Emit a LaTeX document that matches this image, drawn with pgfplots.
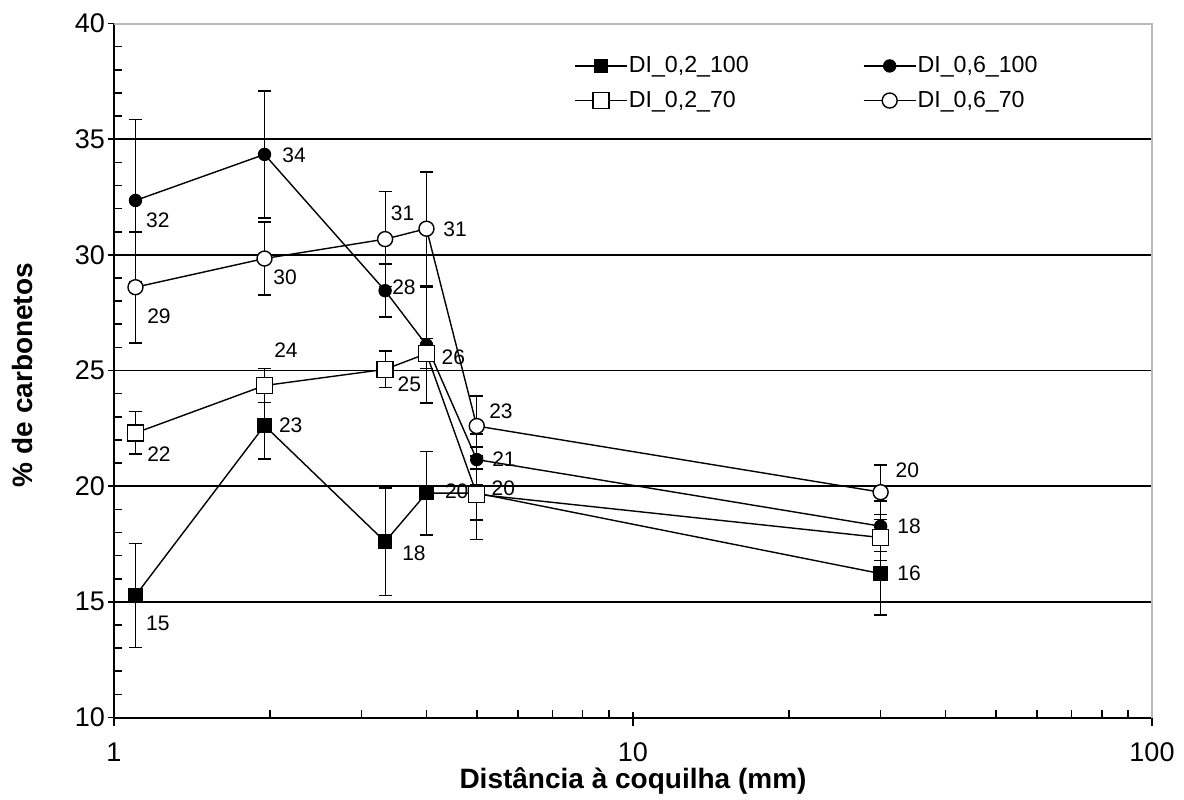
\documentclass[border=0pt]{standalone}
\usepackage{fontspec}
\setmainfont{Liberation Sans}
\usepackage{pgfplots}
\pgfplotsset{compat=1.18}
\tikzset{lbl/.style={font=\fontsize{10.5}{12}\selectfont, inner sep=0pt}}

\begin{document}
\begin{tikzpicture}
\useasboundingbox (-57pt,-40.75pt) rectangle (535pt,358.75pt);
\begin{axis}[
  scale only axis,
  width=519pt, height=347pt,
  xmode=log, log basis x=10,
  xmin=1, xmax=100, ymin=10, ymax=40,
  xtick={1,10,100}, xticklabels={1,10,100},
  minor xtick={2,3,4,5,6,7,8,9,20,30,40,50,60,70,80,90},
  ytick={10,15,20,25,30,35,40}, yticklabels={10,15,20,25,30,35,40},
  minor y tick num=4,
  ymajorgrids, major grid style={black, line width=0.9pt},
  axis x line*=bottom, axis y line*=left,
  axis line style={black, line width=1pt},
  tick align=inside,
  major tick length=7pt, minor tick length=4pt,
  tick style={black, line width=0.8pt},
  major x tick style={yshift=-4pt},
  major y tick style={xshift=-3pt},
  ticklabel style={font=\fontsize{13.5}{15}\selectfont},
  xticklabel style={yshift=-9pt},
  yticklabel style={xshift=-1pt},
  xlabel={Distância à coquilha (mm)},
  ylabel={\% de carbonetos},
  label style={font=\bfseries\fontsize{14}{16}\selectfont},
  xlabel style={at={(axis description cs:0.5,-0.0915)}, anchor=center},
  ylabel style={at={(axis description cs:-0.0886,0.4935)}, anchor=center},
  after end axis/.code={\draw[gray!55, line width=1pt] (rel axis cs:0,1) -- (rel axis cs:1,1) -- (rel axis cs:1,0);},
  legend columns=2,
  legend cell align=left,
  legend style={draw=none, fill=none, at={(axis description cs:0.443,0.955)}, anchor=north west,
    inner sep=0pt, font=\fontsize{11.6}{13}\selectfont, nodes={inner sep=0.6pt},
    row sep=6.5pt, /tikz/every even column/.append style={column sep=56.5pt}},
  legend image code/.code={\draw[mark repeat=2,mark phase=2] plot coordinates {(0pt,0pt)(13pt,0pt)(26pt,0pt)};},
  every axis plot/.append style={black, line width=0.7pt},
  error bars/y dir=both, error bars/y explicit,
  error bars/error mark options={mark size=3.25pt, line width=0.8pt, black, rotate=90},
]
% DI_0,2_100
\addplot[mark=square*, mark size=3.25pt, mark options={fill=black, solid}] coordinates {
  (1.1,15.27) +- (0,2.25)
  (1.95,22.62) +- (0,1.45)
  (3.33,17.6) +- (0,2.33)
  (4,19.7) +- (0,1.8)
  (5,19.7) +- (0,2.0)
  (30,16.22) +- (0,1.8)
};
\addlegendentry{DI\_0,2\_100}
% DI_0,6_100
\addplot[mark=*, mark size=3pt, mark options={fill=black, solid}] coordinates {
  (1.1,32.35) +- (0,3.5)
  (1.95,34.34) +- (0,2.75)
  (3.33,28.45) +- (0,1.15)
  (4,26.1) +- (0,2.5)
  (5,21.15) +- (0,1.1)
  (30,18.27) +- (0,1.1)
};
\addlegendentry{DI\_0,6\_100}
% DI_0,2_70
\addplot[mark=square*, mark size=4pt, mark options={fill=white, solid}] coordinates {
  (1.1,22.3) +- (0,0.92)
  (1.95,24.35) +- (0,0.74)
  (3.33,25.05) +- (0,0.79)
  (4,25.73) +- (0,0.65)
  (5,19.65) +- (0,1.1)
  (30,17.78) +- (0,1.0)
};
\addlegendentry{DI\_0,2\_70}
% DI_0,6_70
\addplot[mark=*, mark size=3.75pt, mark options={fill=white, solid}] coordinates {
  (1.1,28.6) +- (0,2.4)
  (1.95,29.84) +- (0,1.57)
  (3.33,30.68) +- (0,2.05)
  (4,31.13) +- (0,2.45)
  (5,22.6) +- (0,1.3)
  (30,19.74) +- (0,1.18)
};
\addlegendentry{DI\_0,6\_70}

% data labels
\node[lbl] at (axis cs:1.215,14.07) {15};
\node[lbl] at (axis cs:2.190,22.65) {23};
\node[lbl] at (axis cs:3.785,17.10) {18};
\node[lbl] at (axis cs:4.574,19.79) {20};
\node[lbl] at (axis cs:34.03,16.23) {16};
\node[lbl] at (axis cs:1.221,21.39) {22};
\node[lbl] at (axis cs:2.145,25.89) {24};
\node[lbl] at (axis cs:3.707,24.42) {25};
\node[lbl] at (axis cs:4.506,25.57) {26};
\node[lbl] at (axis cs:5.625,19.91) {20};
\node[lbl] at (axis cs:1.215,31.51) {32};
\node[lbl] at (axis cs:2.223,34.32) {34};
\node[lbl] at (axis cs:3.620,28.60) {28};
\node[lbl] at (axis cs:5.642,21.16) {21};
\node[lbl] at (axis cs:34.03,18.28) {18};
\node[lbl] at (axis cs:1.221,27.36) {29};
\node[lbl] at (axis cs:2.136,29.03) {30};
\node[lbl] at (axis cs:3.599,31.80) {31};
\node[lbl] at (axis cs:4.540,31.11) {31};
\node[lbl] at (axis cs:5.568,23.22) {23};
\node[lbl] at (axis cs:33.78,20.70) {20};
\end{axis}
\end{tikzpicture}
\end{document}
